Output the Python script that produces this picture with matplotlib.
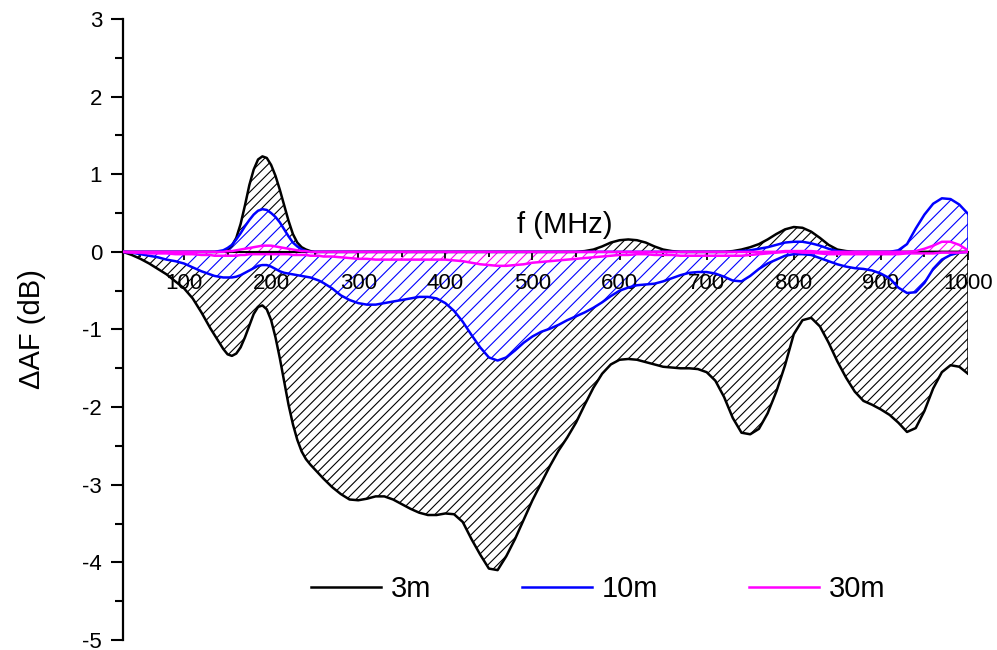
import numpy as np
import matplotlib
matplotlib.use("Agg")
import matplotlib.pyplot as plt
from matplotlib.ticker import MultipleLocator
from matplotlib.collections import LineCollection
from matplotlib.transforms import IdentityTransform

plt.rcParams["font.family"] = ["Liberation Sans", "DejaVu Sans"]
plt.rcParams["axes.unicode_minus"] = False

# Frequency grid (MHz): finer steps around the 200 MHz resonance
freq = (list(range(30, 130, 10))
        + list(range(130, 260, 5))
        + list(range(260, 1001, 10)))

# 3 m separation: upper / lower bound of ΔAF (dB)
upper_3m = (
    [0.0] * 10
    + [0.0, 0.0, 0.0, 0.01, 0.03, 0.08, 0.18, 0.36, 0.6, 0.86, 1.06, 1.19, 1.23,
       1.21, 1.12, 0.98, 0.8, 0.6, 0.4, 0.23, 0.12, 0.06, 0.03, 0.01, 0.0, 0.0]
    + [0.0] * 30
    + [0.01, 0.03, 0.07, 0.12, 0.15, 0.16, 0.15, 0.12, 0.07, 0.03]
    + [0.01, 0.0, 0.0, 0.0, 0.0, 0.0, 0.0, 0.01, 0.03, 0.06]
    + [0.1, 0.16, 0.23, 0.29, 0.32, 0.31, 0.26, 0.18, 0.09, 0.03]
    + [0.01, 0.0, 0.0, 0.0, 0.0, 0.0, 0.0, 0.0, 0.0, 0.0]
    + [0.0, 0.0, 0.0, 0.0, 0.0]
)
lower_3m = (
    [0.0, -0.04, -0.09, -0.15, -0.22, -0.29, -0.38, -0.47, -0.6, -0.78]
    + [-0.98, -1.07, -1.16, -1.25, -1.32, -1.34, -1.31, -1.23, -1.1, -0.95,
       -0.8, -0.71, -0.69, -0.74, -0.88, -1.1, -1.37, -1.67, -1.97, -2.22,
       -2.42, -2.57, -2.67, -2.74, -2.8, -2.86]
    + [-2.92, -3.03, -3.12, -3.19, -3.2, -3.18, -3.15, -3.15, -3.19, -3.25]
    + [-3.31, -3.36, -3.39, -3.39, -3.37, -3.38, -3.48, -3.7, -3.9, -4.08]
    + [-4.1, -3.92, -3.7, -3.45, -3.2, -2.98, -2.76, -2.56, -2.39, -2.2]
    + [-1.97, -1.75, -1.57, -1.45, -1.39, -1.38, -1.39, -1.42, -1.45, -1.48]
    + [-1.49, -1.5, -1.5, -1.51, -1.55, -1.66, -1.87, -2.14, -2.33, -2.35]
    + [-2.28, -2.08, -1.8, -1.46, -1.06, -0.88, -0.85, -0.96, -1.17, -1.41]
    + [-1.62, -1.8, -1.92, -1.97, -2.03, -2.1, -2.2, -2.32, -2.27, -2.05]
    + [-1.76, -1.55, -1.46, -1.48, -1.57]
)

# 10 m separation
upper_10m = (
    [0.0] * 10
    + [0.0, 0.0, 0.01, 0.02, 0.05, 0.09, 0.16, 0.24, 0.33, 0.41, 0.48, 0.53, 0.55,
       0.54, 0.5, 0.45, 0.38, 0.29, 0.2, 0.12, 0.07, 0.03, 0.01, 0.0, 0.0, 0.0]
    + [0.0] * 40
    + [0.0, 0.0, 0.0, 0.0, 0.0, 0.0, 0.0, 0.0, 0.01, 0.02]
    + [0.04, 0.06, 0.09, 0.12, 0.13, 0.13, 0.11, 0.08, 0.04, 0.01]
    + [0.0, 0.0, 0.0, 0.0, 0.0, 0.0, 0.02, 0.1, 0.3, 0.48]
    + [0.62, 0.69, 0.68, 0.61, 0.49]
)
lower_10m = (
    [0.0, -0.01, -0.03, -0.05, -0.07, -0.1, -0.12, -0.15, -0.2, -0.25]
    + [-0.29, -0.31, -0.32, -0.33, -0.33, -0.33, -0.32, -0.3, -0.27, -0.24,
       -0.21, -0.18, -0.17, -0.17, -0.19, -0.22, -0.25, -0.27, -0.28, -0.29,
       -0.3, -0.31, -0.32, -0.33, -0.35, -0.37]
    + [-0.4, -0.47, -0.56, -0.62, -0.66, -0.68, -0.68, -0.66, -0.64, -0.62]
    + [-0.6, -0.58, -0.58, -0.6, -0.66, -0.76, -0.9, -1.07, -1.23, -1.36]
    + [-1.4, -1.36, -1.27, -1.17, -1.09, -1.03, -0.99, -0.94, -0.88, -0.83]
    + [-0.78, -0.72, -0.65, -0.57, -0.5, -0.46, -0.43, -0.42, -0.41, -0.38]
    + [-0.34, -0.3, -0.27, -0.26, -0.26, -0.28, -0.32, -0.37, -0.38, -0.31]
    + [-0.22, -0.15, -0.1, -0.05, -0.03, -0.03, -0.04, -0.08, -0.12, -0.16]
    + [-0.19, -0.21, -0.22, -0.24, -0.28, -0.34, -0.46, -0.53, -0.52, -0.4]
    + [-0.22, -0.1, -0.04, -0.01, 0.0]
)

# 30 m separation
upper_30m = (
    [0.0] * 10
    + [0.0, 0.0, 0.0, 0.0, 0.01, 0.01, 0.02, 0.03, 0.04, 0.05, 0.06, 0.07, 0.08,
       0.08, 0.08, 0.07, 0.06, 0.05, 0.04, 0.03, 0.02, 0.01, 0.01, 0.0, 0.0, 0.0]
    + [0.0] * 50
    + [0.0, 0.0, 0.0, 0.01, 0.01, 0.01, 0.01, 0.0, 0.0, 0.0]
    + [0.0, 0.0, 0.0, 0.0, 0.0, 0.0, 0.0, 0.0, 0.01, 0.04]
    + [0.08, 0.13, 0.13, 0.09, 0.02]
)
lower_30m = (
    [0.0, -0.01, -0.01, -0.02, -0.02, -0.02, -0.03, -0.03, -0.03, -0.04]
    + [-0.04, -0.05, -0.05, -0.05, -0.05, -0.05, -0.05, -0.04, -0.04, -0.03,
       -0.03, -0.03, -0.03, -0.03, -0.03, -0.03, -0.03, -0.03, -0.03, -0.04,
       -0.04, -0.04, -0.04, -0.05, -0.05, -0.05]
    + [-0.06, -0.06, -0.07, -0.08, -0.09, -0.09, -0.1, -0.1, -0.1, -0.1]
    + [-0.1, -0.1, -0.1, -0.1, -0.1, -0.11, -0.12, -0.14, -0.16, -0.17]
    + [-0.18, -0.18, -0.17, -0.16, -0.14, -0.13, -0.12, -0.11, -0.1, -0.09]
    + [-0.08, -0.07, -0.06, -0.05, -0.04, -0.04, -0.03, -0.03, -0.04, -0.04]
    + [-0.04, -0.05, -0.05, -0.05, -0.05, -0.05, -0.05, -0.05, -0.05, -0.04]
    + [-0.03, -0.02, -0.01, 0.0, 0.0, -0.01, -0.01, -0.02, -0.03, -0.03]
    + [-0.03, -0.03, -0.03, -0.03, -0.03, -0.03, -0.03, -0.02, -0.02, -0.02]
    + [-0.02, -0.01, -0.01, -0.01, 0.0]
)

labels = ["3m", "10m", "30m"]
colors = ["#000000", "#0000ff", "#ff00ff"]
bands = [(upper_3m, lower_3m), (upper_10m, lower_10m), (upper_30m, lower_30m)]
faces = ["none", "white", "white"]
hatch_step_px = [9.4, 13.7, 10.0]

fig = plt.figure(figsize=(9.97, 6.5), dpi=100)
ax = fig.add_axes([0.1234, 0.0154, 0.8475, 0.9554])
ax.set_xlim(30, 1000)
ax.set_ylim(-5, 3)

W, H = fig.bbox.width, fig.bbox.height


def hatched_band(x, lo, up, color, face, step, z):
    """Fill between lo and up with diagonal '/' hatching of a given pixel pitch."""
    poly = ax.fill_between(x, lo, up, facecolor=face, edgecolor="none",
                           linewidth=0, zorder=z)
    offsets = np.arange(-H, W + step, step)
    segs = [[(c, 0.0), (c + H, H)] for c in offsets]
    lc = LineCollection(segs, colors=color, linewidths=0.8,
                        transform=IdentityTransform(), zorder=z + 0.01)
    ax.add_collection(lc, autolim=False)
    lc.set_clip_path(poly.get_paths()[0], ax.transData)


for i, ((up, lo), color, face, step) in enumerate(zip(bands, colors, faces, hatch_step_px)):
    hatched_band(freq, lo, up, color, face, step, 1 + i * 0.1)

handles = []
for i, ((up, lo), color, name) in enumerate(zip(bands, colors, labels)):
    z = 3 + i * 0.1
    h, = ax.plot(freq, up, color=color, lw=1.8, zorder=z, label=name)
    ax.plot(freq, lo, color=color, lw=1.8, zorder=z)
    # closing edge of the band at the upper frequency limit
    ax.vlines(freq[-1], lo[-1], up[-1], color=color, lw=1.8, zorder=z)
    handles.append(h)

for side in ("top", "right"):
    ax.spines[side].set_visible(False)
ax.spines["bottom"].set_position(("data", 0))
ax.spines["bottom"].set_linewidth(1.5)
ax.spines["bottom"].set_zorder(2.5)
ax.spines["left"].set_linewidth(1.6)

ax.set_xticks(list(range(100, 1001, 100)))
ax.xaxis.set_minor_locator(MultipleLocator(50))
ax.yaxis.set_major_locator(MultipleLocator(1))
ax.yaxis.set_minor_locator(MultipleLocator(0.5))

ax.tick_params(axis="x", which="major", direction="out", length=6, width=1.3,
               pad=9, labelsize=16)
ax.tick_params(axis="x", which="minor", direction="out", length=3.5, width=1.3)
ax.tick_params(axis="y", which="major", direction="out", length=9, width=1.5,
               pad=6, labelsize=16)
ax.tick_params(axis="y", which="minor", direction="out", length=5.5, width=1.5)

ax.set_xlabel("f (MHz)", fontsize=21)
ax.xaxis.set_label_coords(0.523, 0.669)
ax.xaxis.label.set_va("center")
ax.set_ylabel("\u0394AF (dB)", fontsize=21)
ax.yaxis.set_label_coords(-0.108, 0.5)
ax.yaxis.label.set_va("center")

ax.legend(handles=handles, loc="center", bbox_to_anchor=(0.562, 0.082),
          ncol=3, frameon=False, fontsize=21, handlelength=2.4,
          handletextpad=0.35, columnspacing=3.1)

fig.savefig("out.png", dpi=100)
